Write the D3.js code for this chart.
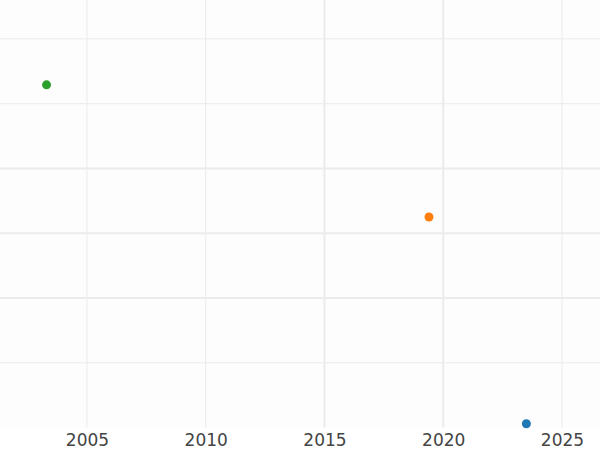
<!DOCTYPE html>
<html><head><meta charset="utf-8">
<script src="https://cdn.jsdelivr.net/npm/d3@7"></script>
<style>body{margin:0;background:#fff;} svg{display:block;}</style>
</head><body>
<svg id="chart" width="600" height="450"></svg>
<script>
// Data
const years = [2003.3, 2019.4, 2023.5];
const values = [5.29, 3.25, 0.06];
const seriesColors = ["#2ca02c", "#ff7f0e", "#1f77b4"];
const xTicks = [2005, 2010, 2015, 2020, 2025];
const xMajorGrid = [2015, 2020];
const yTicks = [1, 2, 3, 4, 5, 6];
const yMajorGrid = [2, 3, 4];

const W = 600, H = 450;
const m = {top: 0, right: 0, bottom: 22.4, left: 0};
const svg = d3.select("#chart");
const x = d3.scaleLinear().domain([2001.34, 2026.6]).range([m.left, W - m.right]);
const y = d3.scaleLinear().domain([0, 6.6]).range([H - m.bottom, m.top]);

svg.append("rect").attr("x", m.left).attr("y", m.top)
  .attr("width", W - m.left - m.right).attr("height", H - m.top - m.bottom)
  .attr("fill", "#fdfdfd");

const g = svg.append("g");
g.selectAll(".vg").data(xTicks).join("line")
  .attr("x1", d => x(d)).attr("x2", d => x(d))
  .attr("y1", m.top).attr("y2", H - m.bottom)
  .attr("stroke", "#ebebeb")
  .attr("stroke-width", d => xMajorGrid.includes(d) ? 2 : 1);
g.selectAll(".hg").data(yTicks).join("line")
  .attr("y1", d => y(d)).attr("y2", d => y(d))
  .attr("x1", m.left).attr("x2", W - m.right)
  .attr("stroke", "#ebebeb")
  .attr("stroke-width", d => yMajorGrid.includes(d) ? 2 : 1);

const xAxis = d3.axisBottom(x).tickValues(xTicks).tickFormat(d3.format("d")).tickSize(0).tickPadding(6.5);
const ax = svg.append("g").attr("transform", `translate(0,${H - m.bottom})`).call(xAxis);
ax.select(".domain").remove();
ax.selectAll("text").attr("fill", "#444").style("font-family", "DejaVu Sans").style("font-size", "17px");

svg.append("g").selectAll("circle").data(years.map((d, i) => ({x: d, y: values[i], c: seriesColors[i]})))
  .join("circle")
  .attr("cx", d => x(d.x)).attr("cy", d => y(d.y)).attr("r", 4.5)
  .attr("fill", d => d.c);
</script>
</body></html>
